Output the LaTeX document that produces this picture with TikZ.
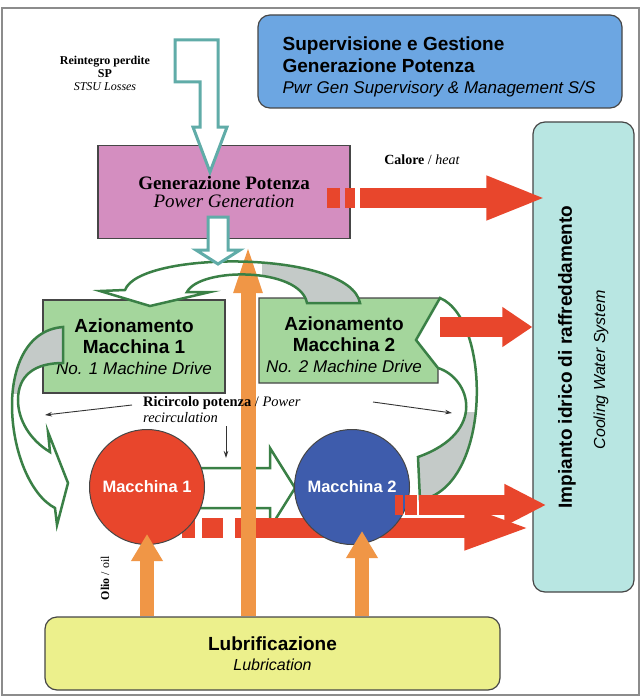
\documentclass[tikz,border=0pt]{standalone}
\usepackage{fontspec}
\setmainfont{Liberation Serif}
\setsansfont{Liberation Sans}
\usetikzlibrary{arrows.meta,calc}

\definecolor{supblue}{RGB}{108,166,226}
\definecolor{genpink}{RGB}{212,142,192}
\definecolor{drvgreen}{RGB}{164,214,156}
\definecolor{coolcyan}{RGB}{184,230,226}
\definecolor{lubyellow}{RGB}{236,240,140}
\definecolor{heatred}{RGB}{232,70,44}
\definecolor{machblue}{RGB}{62,92,172}
\definecolor{oilorange}{RGB}{240,150,70}
\definecolor{flowgreen}{RGB}{58,128,70}
\definecolor{lossteal}{RGB}{96,172,168}
\definecolor{recgray}{RGB}{196,202,200}
\definecolor{edge}{RGB}{70,70,70}

\newcommand{\hdB}{\fontsize{19}{21.5}\selectfont\sffamily\bfseries}
\newcommand{\hdI}{\fontsize{17}{21.5}\selectfont\sffamily\itshape}
\newcommand{\arcTop}{(360,303) .. controls (350,250) and (140,250) .. (125,290) -- (100,291) -- (150,306) -- (210,292) -- (187,292) .. controls (200,267) and (300,267) .. (307,303) -- cycle}
\newcommand{\arcLeft}{(63,327) .. controls (25,330) and (12,370) .. (12,405) .. controls (12,450) and (30,495) .. (55,508) -- (57,525) -- (68,483) -- (48,432) -- (50,452) .. controls (30,440) and (18,420) .. (18,400) .. controls (18,375) and (35,363) .. (63,363) -- cycle}
\newcommand{\arcRight}{(440,298) -- (416,340) -- (438,368) .. controls (470,378) and (488,432) .. (418,457) -- (420,500) .. controls (492,488) and (492,320) .. (440,298) -- cycle}

\begin{document}
\begin{tikzpicture}[x=1pt, y=-1pt,
    box/.style={draw=edge, line width=1.2pt, align=center, inner sep=0pt},
    rbox/.style={box, rounded corners=12pt},
    heat/.style={draw=heatred, line width=20pt},
    oil/.style={draw=oilorange, line width=14pt, -{Triangle[length=27pt,width=30pt]}},
    oilbig/.style={draw=oilorange, line width=15pt, -{Triangle[length=55pt,width=24pt]}},
    hollow/.style={draw=flowgreen, line width=2.5pt, line join=miter},
    loss/.style={draw=lossteal, line width=3pt, fill=white, line join=miter},
    thinarr/.style={-{Stealth[length=7pt,width=4.5pt]}, line width=0.9pt, draw=black!80},
    mach/.style={circle, draw=edge, line width=1pt, minimum size=115pt, text=white,
      font=\fontsize{16.5}{18}\selectfont\sffamily\bfseries}
  ]
  \useasboundingbox (0,0) rectangle (643,698);
  \fill[white] (0,0) rectangle (643,698);
  \draw[black!45, line width=1.5pt] (2,8) rectangle (639,695);

  \node[rbox, fill=supblue, minimum width=364pt, minimum height=93pt] (sup) at (440,61.5) {};
  \node[align=left, font=\fontsize{19}{21.5}\selectfont] (supt) at (439,67)
    {\hdB Supervisione e Gestione\\\hdB Generazione Potenza\\\hdI Pwr Gen Supervisory \& Management S/S};
  \node[align=center, font=\fontsize{12}{13}\selectfont] (reint) at (105,73)
    {\bfseries Reintegro perdite\\\bfseries SP\\\itshape STSU Losses};

  \node[box, fill=genpink, minimum width=252pt, minimum height=93pt, font=\fontsize{19}{18}\selectfont] (pg) at (224,192)
    {\bfseries Generazione Potenza\\\itshape Power Generation};
  \draw[loss] (175,40) -- (218,40) -- (218,127) -- (227,127) -- (210,172) -- (193,127) -- (200,127) -- (200,82) -- (175,82) -- cycle;

  \node[rbox, fill=coolcyan, minimum width=101pt, minimum height=470pt] (cool) at (583.5,357) {};
  \node[rotate=90] (coolit) at (567,357) {\hdB Impianto idrico di raffreddamento};
  \node[rotate=90] (coolen) at (601,370) {\fontsize{16}{18}\selectfont\sffamily\itshape Cooling Water System};

  \node[rbox, fill=lubyellow, minimum width=455pt, minimum height=73pt, font=\fontsize{19}{20}\selectfont] (lub) at (272.5,653.5)
    {\hdB Lubrificazione\\\fontsize{16}{20}\selectfont\sffamily\itshape Lubrication};

  \node[box, fill=drvgreen, minimum width=182pt, minimum height=93pt, font=\fontsize{19}{21}\selectfont] (d1) at (134,346.5)
    {\hdB Azionamento\\\hdB Macchina 1\\\hdI No. 1 Machine Drive};
  \draw[draw=edge, line width=1.2pt, fill=drvgreen] (259,298) -- (440,298) -- (416,340) -- (438,368) -- (438,383) -- (259,383) -- cycle;
  \node[align=center, font=\fontsize{19}{21}\selectfont] (d2) at (344,345)
    {\hdB Azionamento\\\hdB Macchina 2\\\hdI No. 2 Machine Drive};

  \fill[white] \arcTop;
  \begin{scope}
    \clip (262,240) rectangle (370,310);
    \fill[recgray] \arcTop;
  \end{scope}
  \fill[white] \arcLeft;
  \begin{scope}
    \clip (0,300) rectangle (70,393);
    \fill[recgray] \arcLeft;
  \end{scope}
  \draw[hollow] \arcLeft;
  \fill[white] \arcRight;
  \begin{scope}
    \clip (400,412) rectangle (500,510);
    \fill[recgray] \arcRight;
  \end{scope}
  \draw[hollow] \arcRight;

  \draw[hollow, fill=white] (195,468) -- (270,468) -- (270,448) -- (295,488) -- (270,528) -- (270,508) -- (195,508) -- cycle;

  \coordinate (h1) at (327,198);
  \coordinate (h2) at (440,327);
  \coordinate (h3) at (395,505);
  \coordinate (h4) at (182,528);
  \draw[heat, dash pattern=on 13pt off 7pt on 21pt off 12pt on 800pt, -{Triangle[length=68pt,width=39pt]}] (h4) -- (h4 -| cool.west);
  \draw[heat, dash pattern=on 13pt off 5pt on 10pt off 5pt on 600pt, -{Triangle[length=60pt,width=40pt]}] (h1) -- ([xshift=14pt]h1 -| cool.west);
  \draw[heat, -{Triangle[length=30pt,width=38pt]}] (h2) -- (h2 -| cool.west);

  \node[mach, fill=heatred] (m1) at (147,487) {Macchina 1};
  \node[mach, fill=machblue] (m2) at (352,487) {Macchina 2};

  \draw[heat, dash pattern=on 8pt off 2pt on 12pt off 1.5pt on 400pt, -{Triangle[length=42pt,width=39pt]}] (h3) -- ([xshift=14pt]h3 -| cool.west);

  \draw[oil] (m1 |- lub.north) -- ($(m1.south)+(0,-11)$);
  \draw[oil] ($(m2 |- lub.north)+(10,0)$) -- ($(m2.south)+(10,-14)$);
  \draw[oilbig] ($(lub.north -| pg.south)+(24,0)$) -- ($(pg.south)+(24,-1)$);

  \draw[hollow] \arcTop;
  \draw[loss] (208,217) -- (228,217) -- (228,250) -- (240,250) -- (218,264) -- (196,250) -- (208,250) -- cycle;

  \node (heatlbl) at (422,160) {\fontsize{14}{16}\selectfont\textbf{Calore} / \textit{heat}};
  \node[rotate=90] (oillbl) at (105,578) {\fontsize{12}{14}\selectfont\textbf{Olio} / oil};
  \node[anchor=north west, align=left, inner sep=0pt, font=\fontsize{14.5}{16}\selectfont] (ric) at (143,396)
    {\textbf{Ricircolo potenza} / \textit{Power}\\\itshape recirculation};
  \coordinate (rl) at (45,415);
  \coordinate (rdtop) at (226,426);
  \coordinate (rd) at (226,458);
  \coordinate (rrtop) at (373,402);
  \coordinate (rr) at (452,413);
  \draw[thinarr] ($(ric.north west)+(-11,9)$) -- (rl);
  \draw[thinarr] (rdtop) -- (rd);
  \draw[thinarr] (rrtop) -- (rr);
\end{tikzpicture}
\end{document}
